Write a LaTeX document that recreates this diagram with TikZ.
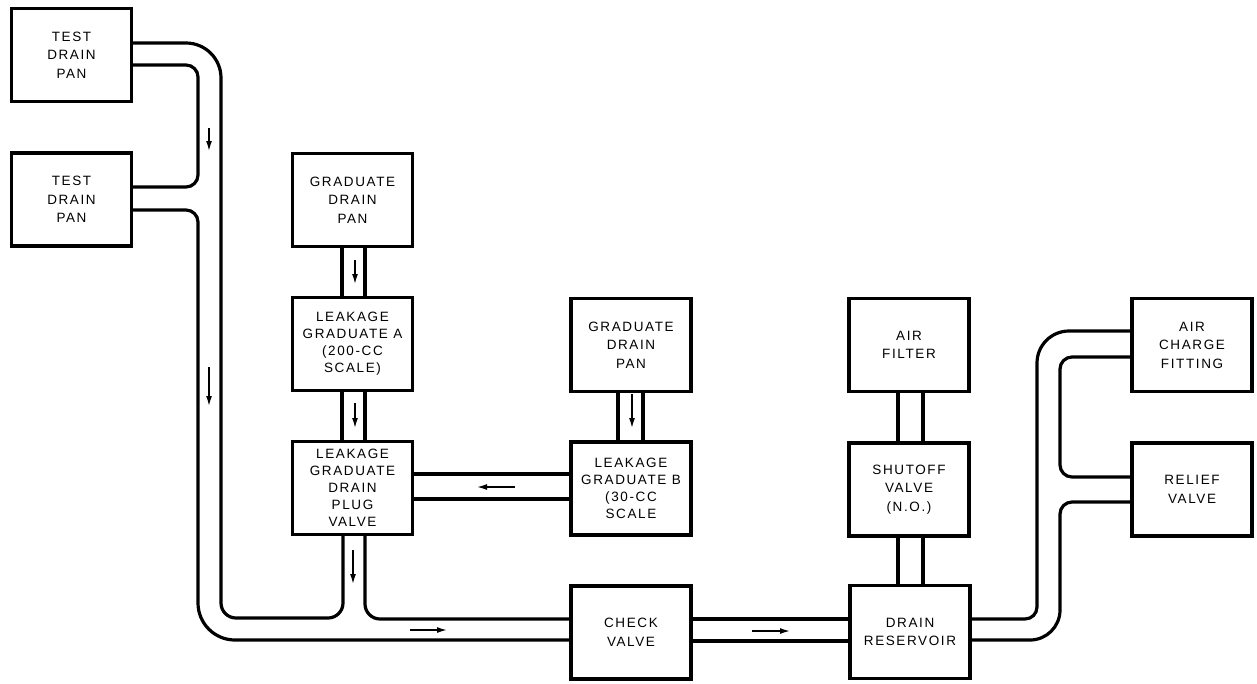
\documentclass[tikz,border=0pt]{standalone}
\usepackage{fontspec}
\newfontfamily\labfont[LetterSpace=12]{Liberation Sans}
\usetikzlibrary{arrows.meta}
\begin{document}
\begin{tikzpicture}[x=1pt,y=-1pt,
  unit/.style={draw, line width=3.2pt, minimum width=120pt, minimum height=93pt,
    inner sep=0pt, align=center, font=\labfont\fontsize{13.5}{18.5}\selectfont},
  tight/.style={font=\labfont\fontsize{13.5}{17}\selectfont},
  pipe/.style={line width=3.2pt},
  flow/.style={line width=1.5pt, -{Latex[length=10pt,width=6pt]}}]
\useasboundingbox (0,0) rectangle (1257,683);

% units
\node[unit] (tdp1) at (71.5,55)    {TEST\\DRAIN\\PAN};
\node[unit] (tdp2) at (71.5,199.5) {TEST\\DRAIN\\PAN};
\node[unit] (gdp1) at (352.5,200)  {GRADUATE\\DRAIN\\PAN};
\node[unit,tight] (lga) at (352.5,344) {LEAKAGE\\GRADUATE A\\(200-CC\\SCALE)};
\node[unit,tight] (pv) at (352.5,488) {LEAKAGE\\GRADUATE\\DRAIN\\PLUG\\VALVE};
\node[unit] (gdp2) at (631,345)    {GRADUATE\\DRAIN\\PAN};
\node[unit,tight] (lgb) at (631,488.5) {LEAKAGE\\GRADUATE B\\(30-CC\\SCALE};
\node[unit] (cv) at (631,632.5)    {CHECK\\VALVE};
\node[unit] (af) at (909,345)      {AIR\\FILTER};
\node[unit] (sv) at (909,489.5)    {SHUTOFF\\VALVE\\(N.O.)};
\node[unit] (dr) at (910,632)      {DRAIN\\RESERVOIR};
\node[unit] (acf) at (1192,345)    {AIR\\CHARGE\\FITTING};
\node[unit] (rv) at (1192,489.5)   {RELIEF\\VALVE};

% left drain line
\draw[pipe, rounded corners=35pt] (tdp1.east |- 0,43) -- (221,43) -- (221,300);
\draw[pipe, rounded corners=15pt] (221,300) -- (221,618) -- (343,618) -- (pv.south -| 343,0);
\draw[pipe, rounded corners=12pt] (tdp1.east |- 0,65) -- (198,65) -- (198,187) -- (tdp2.east |- 0,187);
\draw[pipe, rounded corners=12pt] (tdp2.east |- 0,210) -- (198,210) -- (198,400);
\draw[pipe, rounded corners=37pt] (198,400) -- (198,640) -- (cv.west |- 0,640);
\draw[pipe, rounded corners=15pt] (pv.south -| 365,0) -- (365,619) -- (cv.west |- 0,619);

% graduate column
\draw[pipe] (gdp1.south -| 342,0) -- (lga.north -| 342,0);
\draw[pipe] (gdp1.south -| 365,0) -- (lga.north -| 365,0);
\draw[pipe] (lga.south -| 342,0) -- (pv.north -| 342,0);
\draw[pipe] (lga.south -| 365,0) -- (pv.north -| 365,0);
\draw[pipe] (gdp2.south -| 618,0) -- (lgb.north -| 618,0);
\draw[pipe] (gdp2.south -| 643,0) -- (lgb.north -| 643,0);
\draw[pipe] (lgb.west |- 0,474) -- (pv.east |- 0,474);
\draw[pipe] (lgb.west |- 0,499) -- (pv.east |- 0,499);

% check valve to reservoir
\draw[pipe] (cv.east |- 0,619) -- (dr.west |- 0,619);
\draw[pipe] (cv.east |- 0,641) -- (dr.west |- 0,641);

% air line
\draw[pipe] (af.south -| 898,0) -- (sv.north -| 898,0);
\draw[pipe] (af.south -| 923,0) -- (sv.north -| 923,0);
\draw[pipe] (sv.south -| 898,0) -- (dr.north -| 898,0);
\draw[pipe] (sv.south -| 923,0) -- (dr.north -| 923,0);

% right line
\draw[pipe, rounded corners=12pt] (dr.east |- 0,619) -- (1037,619) -- (1037,450);
\draw[pipe, rounded corners=32pt] (1037,450) -- (1037,331) -- (acf.west |- 0,331);
\draw[pipe, rounded corners=30pt] (dr.east |- 0,640) -- (1060,640) -- (1060,570);
\draw[pipe, rounded corners=12pt] (1060,570) -- (1060,502) -- (rv.west |- 0,502);
\draw[pipe, rounded corners=12pt] (acf.west |- 0,357) -- (1060,357) -- (1060,477) -- (rv.west |- 0,477);

% flow arrows
\draw[flow] (209,128) -- (209,151);
\draw[flow] (209,367) -- (209,406);
\draw[flow] (355,260) -- (355,284);
\draw[flow] (355,403) -- (355,428);
\draw[flow] (353,550) -- (353,584);
\draw[flow] (632,394) -- (632,428);
\draw[flow] (515,487) -- (477,487);
\draw[flow] (410,630) -- (447,630);
\draw[flow] (752,631) -- (790,631);
\end{tikzpicture}
\end{document}
